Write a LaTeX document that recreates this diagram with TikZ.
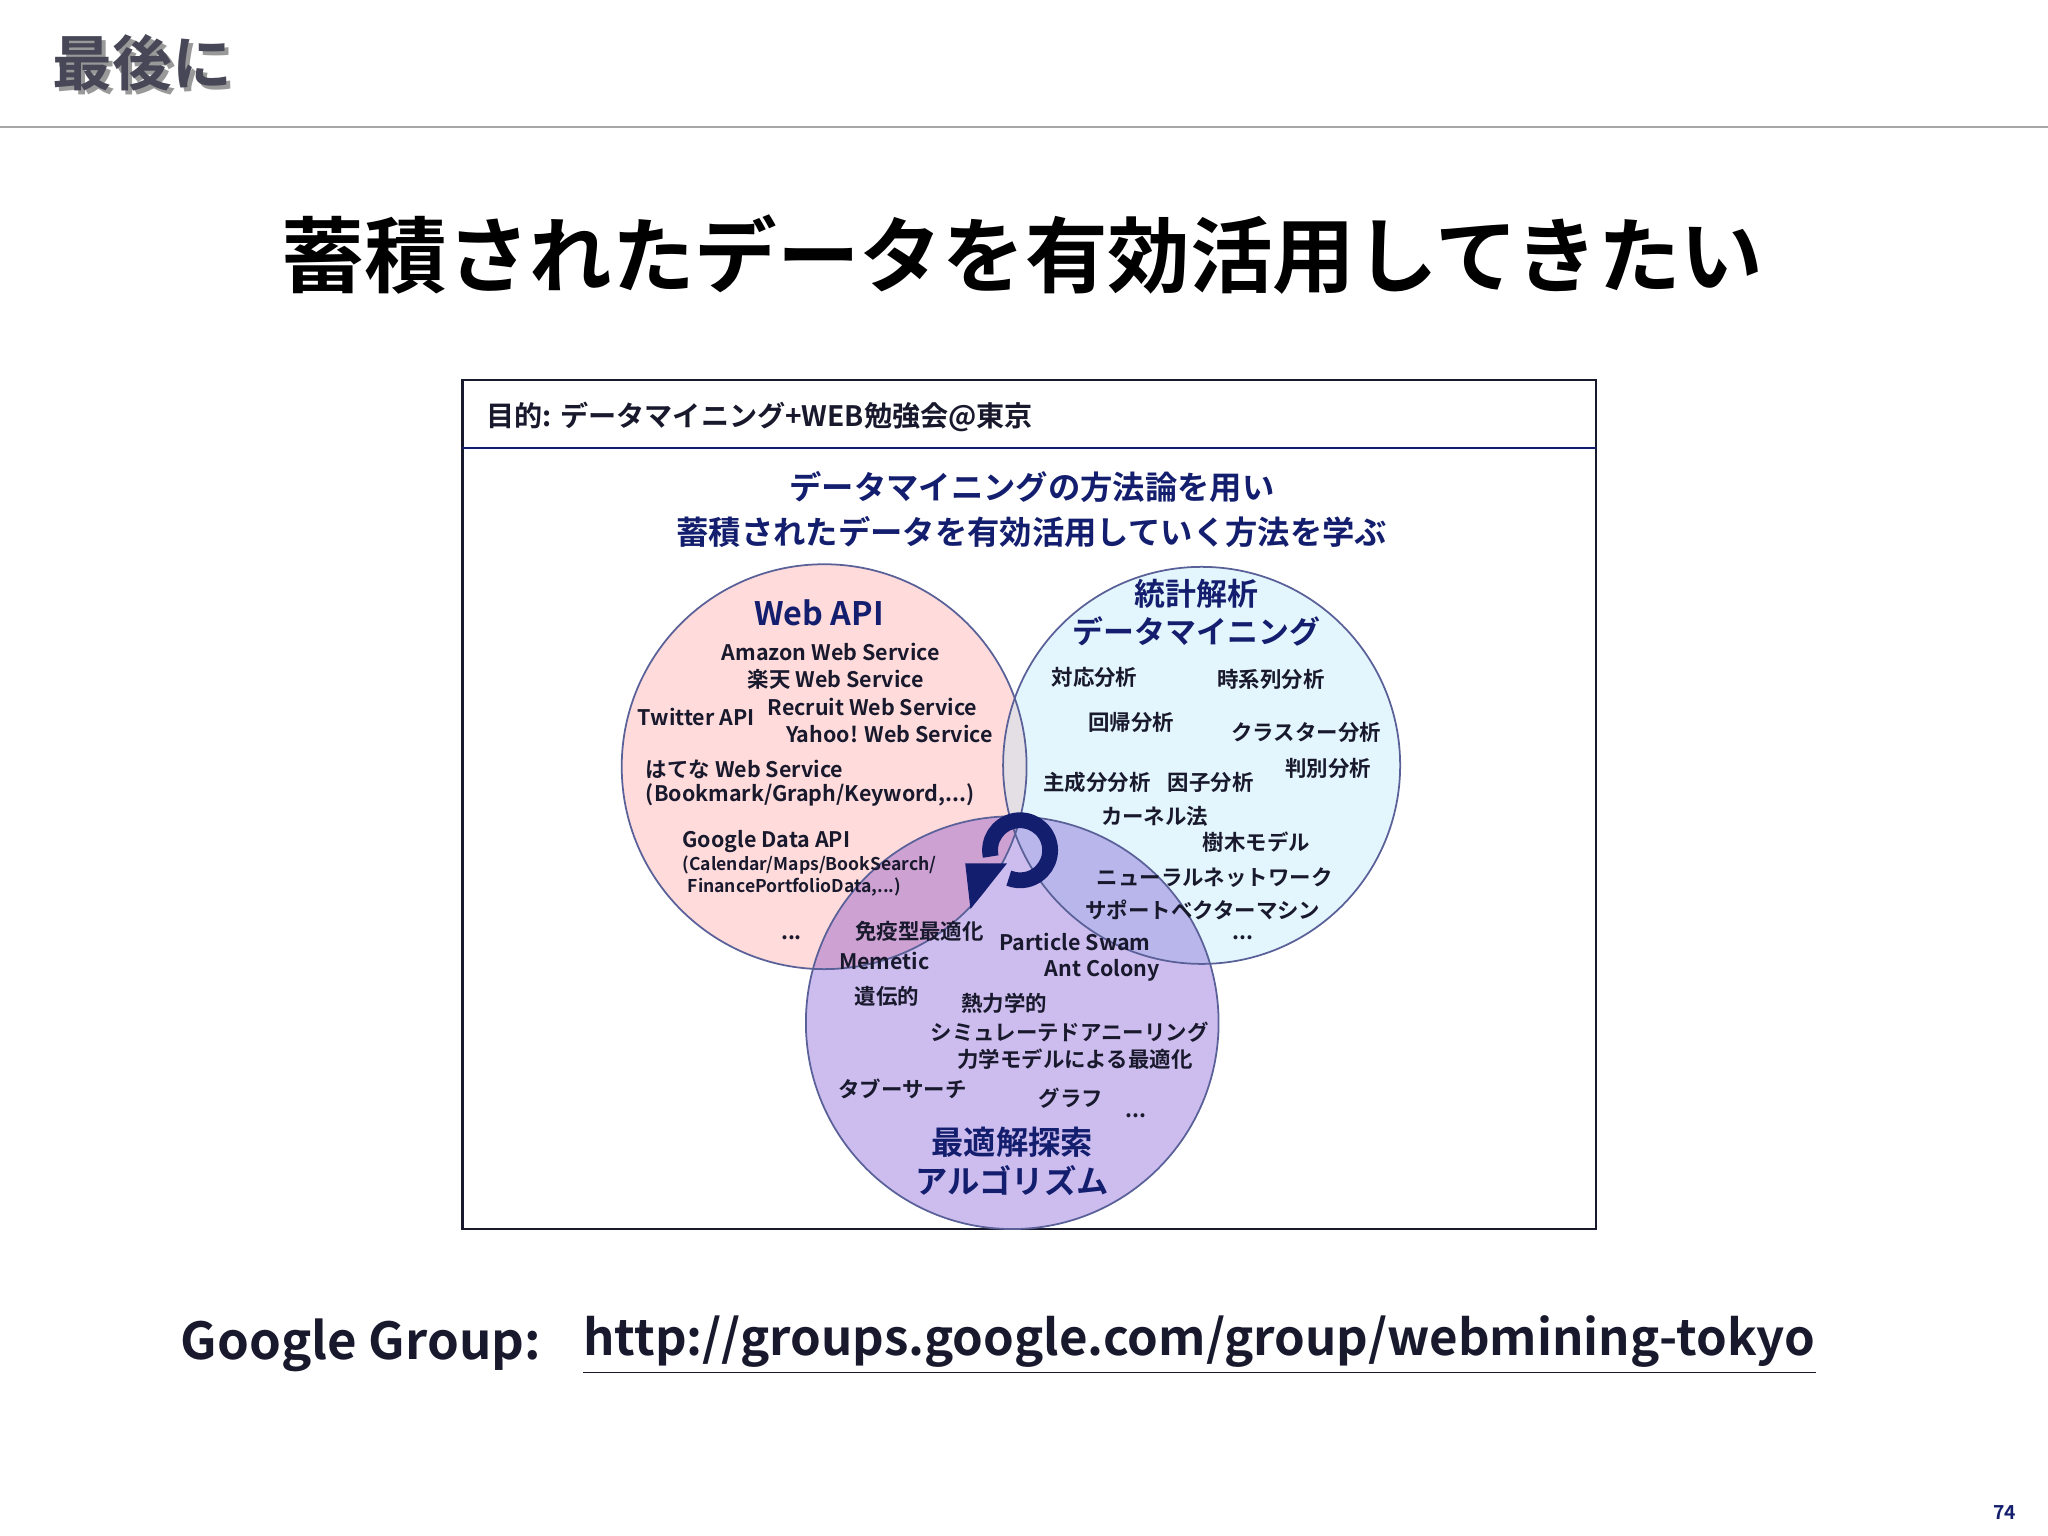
\documentclass[tikz,border=0pt]{standalone}
\usepackage{fontspec}
\setmainfont{Noto Sans CJK JP}
\newfontfamily\cjkb{Noto Sans CJK JP Bold}
\usetikzlibrary{arrows.meta}
\definecolor{navy}{RGB}{20,30,110}
\definecolor{dk}{RGB}{25,25,45}
\tikzset{
 t/.style={font=\cjkb\fontsize{6.1}{7}\selectfont,text=dk,inner sep=0pt},
 ts/.style={font=\cjkb\fontsize{5}{6}\selectfont,text=dk,inner sep=0pt},
 hd/.style={font=\cjkb\fontsize{9.2}{11}\selectfont,text=navy,inner sep=0pt,align=center},
 circ/.style={draw=navy!70,line width=0.5pt},
}
\begin{document}
\begin{tikzpicture}[x=0.013061cm,y=-0.013061cm]
\useasboundingbox (0,0) rectangle (1568,1176);
\fill[white] (0,0) rectangle (1568,1176);
\node[font=\cjkb\fontsize{17}{20}\selectfont,text=black!40,inner sep=0pt] (ttsh) at (112,51) {最後に};
\node[font=\cjkb\fontsize{17}{20}\selectfont,text=dk!80,inner sep=0pt] (tt) at (109,48) {最後に};
\draw[gray!70,line width=0.6pt] (0,97) -- (1568,97);
\node[font=\cjkb\fontsize{23.5}{26}\selectfont,text=black,inner sep=0pt] (head) at (783,195) {蓄積されたデータを有効活用してきたい};
% box
\draw[dk,line width=0.7pt] (354,291) rectangle (1222,941);
\draw[navy,line width=0.5pt] (354,343) -- (1222,343);
\node[t,anchor=west,font=\cjkb\fontsize{8}{9}\selectfont] (goal) at (372,319) {目的: データマイニング+WEB勉強会@東京};
\node[hd] (s1) at (790,373) {データマイニングの方法論を用い};
\node[hd] (s2) at (790,407) {蓄積されたデータを有効活用していく方法を学ぶ};
% circles
\fill[red!60!pink,fill opacity=0.2] (631,587) circle (155);
\fill[cyan!30,fill opacity=0.35] (920,586) circle (152);
\fill[blue!50!violet,fill opacity=0.26] (775,783) circle (158);
\draw[circ] (631,587) circle (155);
\draw[circ] (920,586) circle (152);
\draw[circ] (775,783) circle (158);
% cycle arrow
\draw[navy,line width=4.5pt] (781,651) ++(-192:23) arc (-192:112:23);
\fill[navy] (739,661) -- (771,661) -- (743,696) -- cycle;
% Web API
\node[hd] (wa) at (627,469) {Web API};
\node[t] (w1) at (636,499) {Amazon Web Service};
\node[t] (w2) at (640,520) {楽天 Web Service};
\node[t] (w3) at (668,541) {Recruit Web Service};
\node[t] (w4) at (681,562) {Yahoo! Web Service};
\node[t] (w5) at (533,549) {Twitter API};
\node[t,anchor=west] (w6) at (494,589) {はてな Web Service};
\node[t,anchor=west] (w7) at (494,609) {(Bookmark/Graph/Keyword,...)};
\node[t,anchor=west] (w8) at (522,644) {Google Data API};
\node[ts,anchor=west] (w9) at (522,662) {(Calendar/Maps/BookSearch/};
\node[ts,anchor=west] (w10) at (526,679) {FinancePortfolioData,...)};
\node[t] (w11) at (606,718) {...};
% stats
\node[hd,font=\cjkb\fontsize{8.8}{11}\selectfont] (st) at (916,469) {統計解析\\データマイニング};
\node[t] (a1) at (838,519) {対応分析};
\node[t] (a2) at (973,520) {時系列分析};
\node[t] (a3) at (866,553) {回帰分析};
\node[t] (a4) at (1000,561) {クラスター分析};
\node[t] (a5) at (1017,588) {判別分析};
\node[t] (a6) at (840,599) {主成分分析};
\node[t] (a7) at (927,599) {因子分析};
\node[t] (a8) at (884,625) {カーネル法};
\node[t] (a9) at (962,645) {樹木モデル};
\node[t] (a10) at (930,672) {ニューラルネットワーク};
\node[t] (a11) at (921,697) {サポートベクターマシン};
\node[t] (a12) at (952,718) {...};
% optimisation
\node[t] (o1) at (704,713) {免疫型最適化};
\node[t] (o2) at (823,721) {Particle Swam};
\node[t] (o3) at (844,743) {Ant Colony};
\node[t] (o4) at (677,736) {Memetic};
\node[t] (o5) at (679,763) {遺伝的};
\node[t] (o6) at (769,768) {熱力学的};
\node[t] (o7) at (819,790) {シミュレーテドアニーリング};
\node[t] (o8) at (823,811) {力学モデルによる最適化};
\node[t] (o9) at (691,834) {タブーサーチ};
\node[t] (o10) at (820,841) {グラフ};
\node[t] (o11) at (870,854) {...};
\node[hd] (op) at (775,889) {最適解探索\\アルゴリズム};
% footer
\node[font=\cjkb\fontsize{14.5}{17}\selectfont,text=dk,inner sep=0pt,anchor=west] (gg) at (138,1030) {Google Group:};
\node[font=\cjkb\fontsize{14}{17}\selectfont,text=dk,inner sep=0pt,anchor=west] (url) at (446,1030) {\underline{http://groups.google.com/group/webmining-tokyo}};
\node[font=\cjkb\fontsize{5.5}{6}\selectfont,text=navy,inner sep=0pt] (pg) at (1535,1158) {74};
\end{tikzpicture}
\end{document}
